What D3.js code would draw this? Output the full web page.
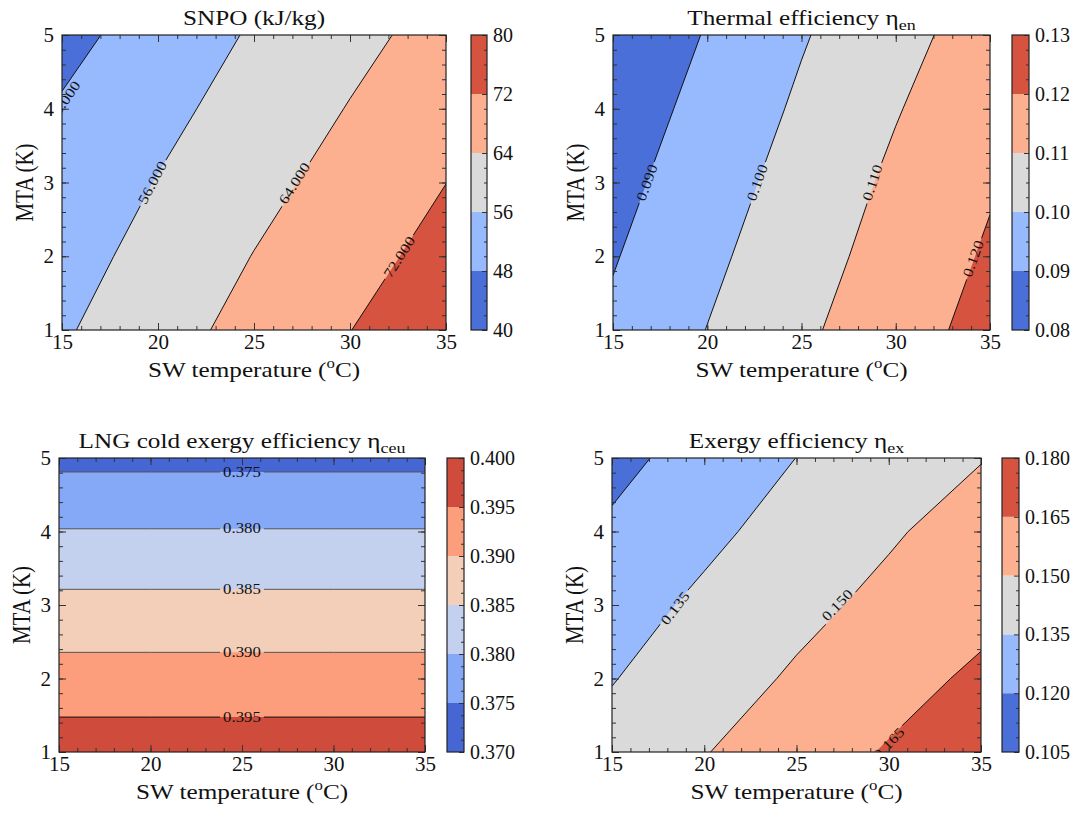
<!DOCTYPE html>
<html lang="en">
<head>
<meta charset="utf-8" />
<title>Contour maps</title>
<script src="https://cdn.jsdelivr.net/npm/d3@7/dist/d3.min.js"></script>
<style>
  body { margin: 0; background: #fff; }
  text { font-family: "Liberation Serif", "Times New Roman", serif; fill: #111; }
</style>
</head>
<body>
<script>
// grid axes
var swTemp = [15, 20, 25, 30, 35];
var mta = [1, 2, 3, 4, 5];

// rows = MTA 1..5, columns = SW temperature 15..35
var snpo = [
    [55.10, 61.10, 66.40, 71.90, 77.30],
    [52.96, 58.60, 64.20, 69.30, 74.50],
    [50.98, 56.30, 61.65, 66.87, 71.95],
    [48.70, 53.90, 59.10, 64.35, 69.50],
    [45.75, 51.30, 56.80, 61.80, 66.80]
];
var etaEn = [
    [0.09178, 0.10018, 0.10832, 0.11586, 0.12325],
    [0.08937, 0.09785, 0.10608, 0.11382, 0.12116],
    [0.08694, 0.09549, 0.10386, 0.11182, 0.11910],
    [0.08448, 0.09305, 0.10151, 0.10944, 0.11679],
    [0.08200, 0.09060, 0.09922, 0.10696, 0.11441]
];
var etaCeu = [
    [0.39767, 0.39767, 0.39767, 0.39767, 0.39767],
    [0.39205, 0.39205, 0.39205, 0.39205, 0.39205],
    [0.38629, 0.38629, 0.38629, 0.38629, 0.38629],
    [0.38024, 0.38024, 0.38024, 0.38024, 0.38024],
    [0.37377, 0.37377, 0.37377, 0.37377, 0.37377]
];
var etaEx = [
    [0.14011, 0.14942, 0.15783, 0.16617, 0.17451],
    [0.13440, 0.14323, 0.15184, 0.15972, 0.16760],
    [0.12925, 0.13766, 0.14606, 0.15367, 0.16058],
    [0.12214, 0.13187, 0.14039, 0.14833, 0.15628],
    [0.11605, 0.12559, 0.13510, 0.14226, 0.14941]
];

// contour levels (also colorbar ticks)
var snpoLevels = [40, 48, 56, 64, 72, 80];
var etaEnLevels = [0.08, 0.09, 0.10, 0.11, 0.12, 0.13];
var etaCeuLevels = [0.370, 0.375, 0.380, 0.385, 0.390, 0.395, 0.400];
var etaExLevels = [0.105, 0.120, 0.135, 0.150, 0.165, 0.180];

var colors5 = ["#4a6fd8", "#97b9fd", "#dadada", "#fdb08f", "#d6533f"];
var colors6 = ["#4566d3", "#86a9f7", "#c3d1ef", "#f3cfba", "#fc9d7c", "#cf4b3b"];

var panels = [
    {
        title: ["SNPO (kJ/kg)", ""], grid: snpo, levels: snpoLevels, colors: colors5,
        fmt: d3.format("d"), lblFmt: d3.format(".3f"),
        plot: { x0: 62, x1: 446, y0: 35, y1: 330 }, cbar: { x0: 471, x1: 487 },
        labels: [[48, 15.1, 4.1], [56, 19.7, 3.0], [64, 27.1, 2.99], [72, 32.56, 1.99]]
    },
    {
        title: ["Thermal efficiency \u03b7", "en"], grid: etaEn, levels: etaEnLevels, colors: colors5,
        fmt: d3.format(".2f"), lblFmt: d3.format(".3f"),
        plot: { x0: 613, x1: 990, y0: 35, y1: 330 }, cbar: { x0: 1012, x1: 1029 },
        labels: [[0.09, 16.79, 3.0], [0.10, 22.64, 3.0], [0.11, 28.75, 3.0], [0.12, 34.1, 1.97]]
    },
    {
        title: ["LNG cold exergy efficiency \u03b7", "ceu"], grid: etaCeu, levels: etaCeuLevels, colors: colors6,
        fmt: d3.format(".3f"), lblFmt: d3.format(".3f"),
        plot: { x0: 59, x1: 425, y0: 458, y1: 752 }, cbar: { x0: 447, x1: 464 },
        labels: [[0.375, 25, 4.81], [0.380, 25, 4.04], [0.385, 25, 3.21], [0.390, 25, 2.36], [0.395, 25, 1.475]],
        lineColor: function(v) { return v > 0.394 ? "#111" : "#555"; }
    },
    {
        title: ["Exergy efficiency \u03b7", "ex"], grid: etaEx, levels: etaExLevels, colors: colors5,
        fmt: d3.format(".3f"), lblFmt: d3.format(".3f"),
        plot: { x0: 612, x1: 981, y0: 458, y1: 752 }, cbar: { x0: 1002, x1: 1019 },
        labels: [[0.135, 18.41, 2.96], [0.150, 27.2, 3.0], [0.165, 30.0, 1.12]]
    }
];

var W = 1074, H = 814;
var svg = d3.select("body").append("svg").attr("width", W).attr("height", H);
var defs = svg.append("defs");

panels.forEach(function(p, pi) {
    var nx = swTemp.length, ny = mta.length;
    var x = d3.scaleLinear().domain([swTemp[0], swTemp[nx - 1]]).range([p.plot.x0, p.plot.x1]);
    var y = d3.scaleLinear().domain([mta[0], mta[ny - 1]]).range([p.plot.y1, p.plot.y0]);
    // d3.contours grid coords: value (i, j) sits at (i + 0.5, j + 0.5)
    var gxT = d3.scaleLinear().domain([0.5, nx - 0.5]).range([swTemp[0], swTemp[nx - 1]]);
    var gyM = d3.scaleLinear().domain([0.5, ny - 0.5]).range([mta[0], mta[ny - 1]]);

    function clamp(pt) {
        return [Math.max(0.5, Math.min(nx - 0.5, pt[0])), Math.max(0.5, Math.min(ny - 0.5, pt[1]))];
    }
    function toPx(pt) {
        return [x(gxT(pt[0])), y(gyM(pt[1]))];
    }

    var flat = [];
    p.grid.forEach(function(row) { flat = flat.concat(row); });
    var contours = d3.contours().size([nx, ny]).thresholds(p.levels)(flat);

    var g = svg.append("g");
    var clipId = "clip" + pi;
    defs.append("clipPath").attr("id", clipId)
        .append("rect")
        .attr("x", p.plot.x0).attr("y", p.plot.y0)
        .attr("width", p.plot.x1 - p.plot.x0).attr("height", p.plot.y1 - p.plot.y0);

    // filled bands
    var fills = g.append("g").attr("clip-path", "url(#" + clipId + ")");
    contours.forEach(function(c, i) {
        if (i >= p.colors.length) return;
        var d = "";
        c.coordinates.forEach(function(poly) {
            poly.forEach(function(ring) {
                d += ring.map(function(pt, k) {
                    var q = toPx(clamp(pt));
                    return (k ? "L" : "M") + q[0].toFixed(2) + "," + q[1].toFixed(2);
                }).join("") + "Z";
            });
        });
        if (d) fills.append("path").attr("d", d).attr("fill", p.colors[i]).attr("fill-rule", "evenodd");
    });

    // iso-lines: ring segments that do not run along the plot border
    function onEdge(a, b) {
        return (a[0] === 0.5 && b[0] === 0.5) || (a[0] === nx - 0.5 && b[0] === nx - 0.5) ||
            (a[1] === 0.5 && b[1] === 0.5) || (a[1] === ny - 0.5 && b[1] === ny - 0.5);
    }
    function isoLines(c) {
        var out = [];
        c.coordinates.forEach(function(poly) {
            poly.forEach(function(ring) {
                var pts = ring.map(clamp);
                var f = pts[0], l = pts[pts.length - 1];
                if (f[0] !== l[0] || f[1] !== l[1]) pts.push(f);
                var n = pts.length - 1;
                var start = -1;
                for (var i = 0; i < n; i++) {
                    if (onEdge(pts[i], pts[i + 1])) { start = i; break; }
                }
                if (start < 0) { out.push(pts); return; }
                var cur = null;
                for (var k = 0; k < n; k++) {
                    var j = (start + k) % n;
                    var a = pts[j], b = pts[j + 1];
                    if (onEdge(a, b)) {
                        if (cur) { out.push(cur); cur = null; }
                    } else {
                        if (!cur) cur = [a];
                        cur.push(b);
                    }
                }
                if (cur) out.push(cur);
            });
        });
        return out.map(function(line) { return line.map(toPx); });
    }

    var lineSets = {};
    contours.forEach(function(c, i) {
        if (i === 0 || i === p.levels.length - 1) return;
        lineSets[i] = isoLines(c);
    });

    var maskId = "mask" + pi;
    var mask = defs.append("mask").attr("id", maskId).attr("maskUnits", "userSpaceOnUse")
        .attr("x", 0).attr("y", 0).attr("width", W).attr("height", H);
    mask.append("rect").attr("width", W).attr("height", H).attr("fill", "white");

    var lineG = g.append("g").attr("clip-path", "url(#" + clipId + ")")
        .append("g").attr("mask", "url(#" + maskId + ")");
    var lineGen = d3.line();
    Object.keys(lineSets).forEach(function(i) {
        var v = p.levels[i];
        lineSets[i].forEach(function(line) {
            lineG.append("path").attr("d", lineGen(line))
                .attr("fill", "none")
                .attr("stroke", p.lineColor ? p.lineColor(v) : "#111")
                .attr("stroke-width", 1);
        });
    });

    // inline contour labels
    var lblG = g.append("g").attr("clip-path", "url(#" + clipId + ")");
    p.labels.forEach(function(lb) {
        var idx = p.levels.findIndex(function(v) { return Math.abs(v - lb[0]) < 1e-9; });
        var P = [x(lb[1]), y(lb[2])];
        var best = Infinity, ang = 0;
        (lineSets[idx] || []).forEach(function(line) {
            for (var k = 0; k < line.length - 1; k++) {
                var a = line[k], b = line[k + 1];
                var dx = b[0] - a[0], dy = b[1] - a[1];
                var L2 = dx * dx + dy * dy;
                if (!L2) continue;
                var t = Math.max(0, Math.min(1, ((P[0] - a[0]) * dx + (P[1] - a[1]) * dy) / L2));
                var ex = a[0] + t * dx - P[0], ey = a[1] + t * dy - P[1];
                var dd = ex * ex + ey * ey;
                if (dd < best) { best = dd; ang = Math.atan2(dy, dx) * 180 / Math.PI; }
            }
        });
        if (ang > 90) ang -= 180;
        if (ang <= -90) ang += 180;
        var tr = "translate(" + P[0] + "," + P[1] + ") rotate(" + ang + ")";
        var txt = lblG.append("text")
            .attr("transform", tr + " scale(1.2,1)")
            .attr("text-anchor", "middle")
            .attr("dy", "0.35em")
            .attr("font-size", 14)
            .text(p.lblFmt(lb[0]));
        var w = txt.node().getComputedTextLength() * 1.2 + 6;
        mask.append("rect").attr("transform", tr)
            .attr("x", -w / 2).attr("y", -6).attr("width", w).attr("height", 12)
            .attr("fill", "black");
    });

    // ticks on all four sides, pointing inward
    var xMinor = d3.range(swTemp[0], swTemp[nx - 1] + 0.001, 1);
    var yMinor = d3.range(mta[0], mta[ny - 1] + 0.001, 0.2);
    function axisG(axis, tx, ty, fs) {
        var a = g.append("g").attr("transform", "translate(" + tx + "," + ty + ")").call(axis);
        a.select(".domain").remove();
        a.selectAll("line").attr("stroke", "#333");
        a.selectAll("text").attr("font-size", fs || 21).attr("fill", "#111");
        return a;
    }
    axisG(d3.axisBottom(x).tickValues(xMinor).tickSize(-4).tickFormat(""), 0, p.plot.y1);
    axisG(d3.axisTop(x).tickValues(xMinor).tickSize(-4).tickFormat(""), 0, p.plot.y0);
    axisG(d3.axisLeft(y).tickValues(yMinor).tickSize(-4).tickFormat(""), p.plot.x0, 0);
    axisG(d3.axisRight(y).tickValues(yMinor).tickSize(-4).tickFormat(""), p.plot.x1, 0);
    axisG(d3.axisBottom(x).tickValues(swTemp).tickSize(-7).tickPadding(4).tickFormat(d3.format("d")), 0, p.plot.y1);
    axisG(d3.axisTop(x).tickValues(swTemp).tickSize(-7).tickFormat(""), 0, p.plot.y0);
    axisG(d3.axisLeft(y).tickValues(mta).tickSize(-7).tickPadding(8).tickFormat(d3.format("d")), p.plot.x0, 0);
    axisG(d3.axisRight(y).tickValues(mta).tickSize(-7).tickFormat(""), p.plot.x1, 0);

    g.append("rect")
        .attr("x", p.plot.x0).attr("y", p.plot.y0)
        .attr("width", p.plot.x1 - p.plot.x0).attr("height", p.plot.y1 - p.plot.y0)
        .attr("fill", "none").attr("stroke", "#222").attr("stroke-width", 1.2);

    // colorbar
    var lv = p.levels;
    var cb = d3.scaleLinear().domain([lv[0], lv[lv.length - 1]]).range([p.plot.y1, p.plot.y0]);
    g.append("g").selectAll("rect")
        .data(p.colors)
        .enter()
        .append("rect")
        .attr("x", p.cbar.x0)
        .attr("width", p.cbar.x1 - p.cbar.x0)
        .attr("y", function(d, i) { return cb(lv[i + 1]); })
        .attr("height", function(d, i) { return cb(lv[i]) - cb(lv[i + 1]); })
        .attr("fill", function(d) { return d; });
    var cbMinor = [];
    for (var i = 0; i < lv.length - 1; i++) {
        for (var k = 1; k < 4; k++) cbMinor.push(lv[i] + k * (lv[i + 1] - lv[i]) / 4);
    }
    axisG(d3.axisRight(cb).tickValues(cbMinor).tickSize(-3).tickFormat(""), p.cbar.x1, 0);
    axisG(d3.axisRight(cb).tickValues(lv).tickSize(-5).tickPadding(6).tickFormat(p.fmt), p.cbar.x1, 0, 20);
    g.append("rect")
        .attr("x", p.cbar.x0).attr("y", p.plot.y0)
        .attr("width", p.cbar.x1 - p.cbar.x0).attr("height", p.plot.y1 - p.plot.y0)
        .attr("fill", "none").attr("stroke", "#222").attr("stroke-width", 1.2);

    // titles and axis labels
    var midX = (p.plot.x0 + p.plot.x1) / 2, midY = (p.plot.y0 + p.plot.y1) / 2;
    var t = g.append("text")
        .attr("transform", "translate(" + midX + "," + (p.plot.y0 - 10) + ") scale(1.2,1)")
        .attr("text-anchor", "middle").attr("font-size", 21);
    t.append("tspan").text(p.title[0]);
    if (p.title[1]) t.append("tspan").attr("dy", 5).attr("font-size", 15).text(p.title[1]);

    var xl = g.append("text")
        .attr("transform", "translate(" + midX + "," + (p.plot.y1 + 47) + ") scale(1.2,1)")
        .attr("text-anchor", "middle").attr("font-size", 21);
    xl.append("tspan").text("SW temperature (");
    xl.append("tspan").attr("dy", -9).attr("font-size", 14).text("o");
    xl.append("tspan").attr("dy", 9).text("C)");

    g.append("text")
        .attr("transform", "translate(" + (p.plot.x0 - 29) + "," + midY + ") scale(1.2,1) rotate(-90)")
        .attr("text-anchor", "middle").attr("font-size", 21)
        .text("MTA (K)");
});
</script>
</body>
</html>
